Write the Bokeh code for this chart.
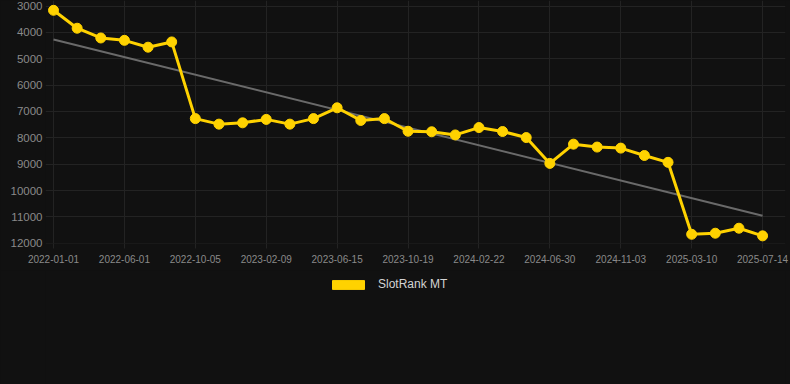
from bokeh.plotting import figure
from bokeh.layouts import column
from bokeh.models import Range1d, FixedTicker, Legend, LegendItem, ColumnDataSource
from bokeh.embed import file_html
from bokeh.resources import INLINE

# ---- data ----
tick_labels = ["2022-01-01", "2022-06-01", "2022-10-05", "2023-02-09", "2023-06-15",
               "2023-10-19", "2024-02-22", "2024-06-30", "2024-11-03", "2025-03-10",
               "2025-07-14"]
label_step = 3
ranks = [3160, 3840, 4210, 4300, 4560, 4360, 7270, 7480, 7430, 7300, 7480, 7270,
         6860, 7340, 7270, 7750, 7770, 7890, 7610, 7760, 7990, 8970, 8240, 8350,
         8390, 8670, 8930, 11660, 11620, 11430, 11720]
trend_ends = [4265, 10958]
y_ticks = [3000, 4000, 5000, 6000, 7000, 8000, 9000, 10000, 11000, 12000]
series_name = "SlotRank MT"

BG = "#111111"
GRID = "#232323"
YELLOW = "#FFD200"
FONT = "Liberation Sans"

xs = list(range(len(ranks)))
src = ColumnDataSource(dict(x=xs, y=ranks))

p = figure(width=790, height=270, output_backend="svg", toolbar_location=None,
           x_range=Range1d(-0.339, 30.97), y_range=Range1d(12010, 2788),
           min_border_left=45, min_border_right=5, min_border_top=0,
           min_border_bottom=27)
p.background_fill_color = BG
p.border_fill_color = BG
p.outline_line_color = None

# trend line
p.line(x=[xs[0], xs[-1]], y=trend_ends, line_color="#6a6a6a", line_width=2)
# series
p.line("x", "y", source=src, line_color=YELLOW, line_width=3)
p.scatter("x", "y", source=src, size=10, fill_color=YELLOW, line_color=YELLOW)

# axes
tick_pos = [i * label_step for i in range(len(tick_labels))]
p.xaxis.ticker = FixedTicker(ticks=tick_pos)
p.xaxis.major_label_overrides = {t: l for t, l in zip(tick_pos, tick_labels)}
p.yaxis.ticker = FixedTicker(ticks=y_ticks)
for ax in (p.xaxis, p.yaxis):
    ax.axis_line_color = None
    ax.minor_tick_line_color = None
    ax.major_label_text_font = FONT
    ax.major_label_text_color = "#8a8a8a"
p.xaxis.major_tick_line_color = GRID
p.xaxis.major_tick_in = 0
p.xaxis.major_tick_out = 5
p.xaxis.major_label_standoff = 6
p.xaxis.major_label_text_font_size = "10px"
p.yaxis.major_tick_line_color = None
p.yaxis.major_tick_in = 0
p.yaxis.major_tick_out = 0
p.yaxis.major_label_standoff = 3
p.yaxis.major_label_text_font_size = "11.5px"

p.xgrid.grid_line_color = GRID
p.ygrid.grid_line_color = GRID
p.xgrid.ticker = FixedTicker(ticks=tick_pos)
p.ygrid.ticker = FixedTicker(ticks=y_ticks)

# legend figure below the chart
p2 = figure(width=790, height=114, output_backend="svg", toolbar_location=None,
            x_range=Range1d(0, 1), y_range=Range1d(0, 1),
            x_axis_type=None, y_axis_type=None,
            min_border_left=0, min_border_right=0, min_border_top=0, min_border_bottom=0)
p2.background_fill_color = BG
p2.border_fill_color = BG
p2.outline_line_color = None
p2.xgrid.visible = False
p2.ygrid.visible = False
# legend proxy: one entry lying outside the visible range, used only for the swatch
sw = p2.quad(left=[-3], right=[-2], top=[-2], bottom=[-3],
             fill_color=YELLOW, line_color=YELLOW)
legend = Legend(items=[LegendItem(label=series_name, renderers=[sw])],
                location=(283, 93), orientation="horizontal",
                glyph_width=40, glyph_height=11, label_text_font=FONT,
                label_text_font_size="12px", label_text_color="#d4d4d4",
                background_fill_alpha=0, border_line_color=None,
                margin=0, padding=4, spacing=0, label_standoff=10)
p2.add_layout(legend)

layout = column(p, p2, spacing=0)

html = file_html(layout, INLINE)
html = html.replace("<head>", "<head><style>html,body{background:#111111;}</style>", 1)
open("out.html", "w").write(html)
